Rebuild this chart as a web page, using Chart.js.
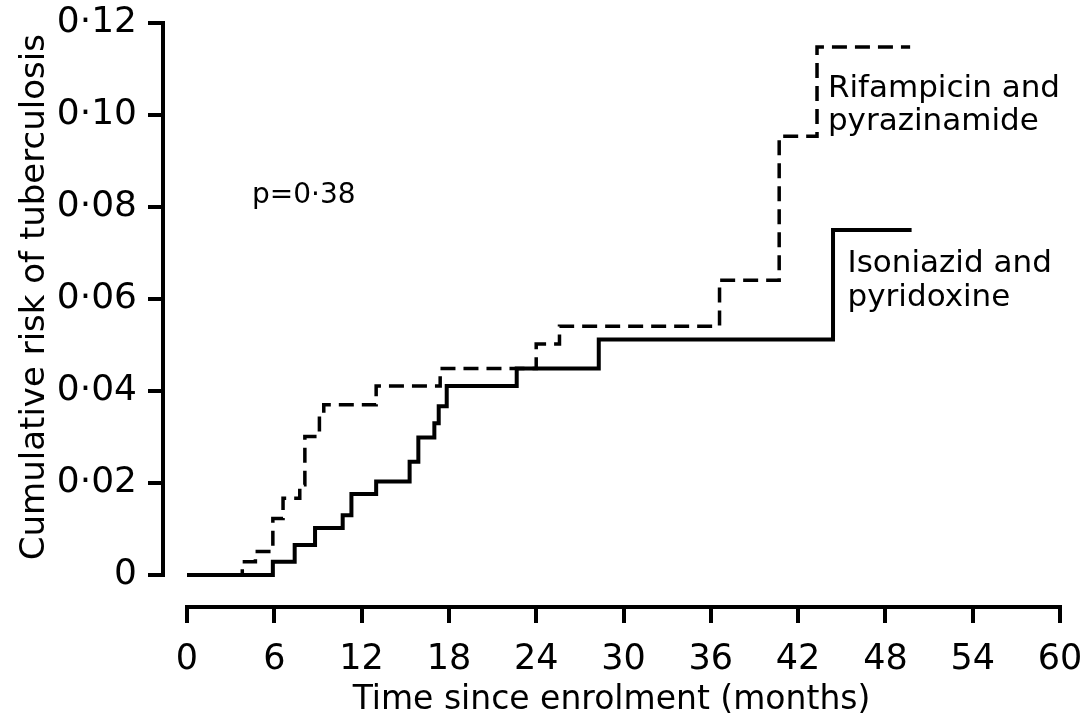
<!DOCTYPE html>
<html>
<head>
<meta charset="utf-8">
<script src="https://cdn.jsdelivr.net/npm/chart.js@4.4.1/dist/chart.umd.min.js"></script>
<style>
  html, body { margin: 0; padding: 0; background: #fff; }
  #wrap { width: 1080px; height: 722px; }
</style>
</head>
<body>
<div id="wrap"><canvas id="km" width="1080" height="722"></canvas></div>
<script>
// months since enrolment / cumulative risk
const rifMonths = [0, 3.8, 4.7, 5.9, 6.6, 7.75, 8.1, 9.1, 9.4, 13.0, 17.4, 24.0, 25.6, 36.6, 40.7, 43.3, 49.7]
const rifRisk   = [0, 0.0029, 0.0051, 0.0123, 0.0167, 0.0196, 0.0301, 0.0345, 0.0370, 0.0411, 0.0449, 0.0502, 0.0541, 0.0641, 0.0954, 0.1148, 0.1148]

const isoMonths = [0, 5.9, 7.4, 8.8, 10.7, 11.3, 13.0, 15.3, 15.9, 17.0, 17.3, 17.85, 22.66, 28.3, 44.4, 49.8]
const isoRisk   = [0, 0.0029, 0.0065, 0.0102, 0.0130, 0.0176, 0.0203, 0.0246, 0.0299, 0.0330, 0.0367, 0.0411, 0.0449, 0.0512, 0.0750, 0.0750]

const xTicks = [0, 6, 12, 18, 24, 30, 36, 42, 48, 54, 60]
const yTicks = [0, 0.02, 0.04, 0.06, 0.08, 0.10, 0.12]

const FONT = 'DejaVu Sans'
const yTitle = 'Cumulative risk of tuberculosis'

function toPoints(xs, ys) {
  return xs.map((m, i) => ({ x: m, y: ys[i] }))
}

// free text placed in data units (left edge, baseline)
const notes = [
  { text: 'p=0·38',         x: 4.47,  y: 0.0809, size: 28 },
  { text: 'Rifampicin and', x: 44.05, y: 0.1039, size: 31 },
  { text: 'pyrazinamide',   x: 44.05, y: 0.0968, size: 31 },
  { text: 'Isoniazid and',  x: 45.4,  y: 0.0659, size: 31 },
  { text: 'pyridoxine',     x: 45.4,  y: 0.0585, size: 31 },
]

// axis lines are offset from each other, so draw them here
const axisLines = {
  id: 'axisLines',
  afterDraw(chart) {
    const { ctx, chartArea, scales: { x, y } } = chart
    ctx.save()
    ctx.strokeStyle = '#000'
    ctx.lineWidth = 4
    ctx.beginPath()
    ctx.moveTo(chartArea.left, y.getPixelForValue(yTicks[yTicks.length - 1]) - 2)
    ctx.lineTo(chartArea.left, y.getPixelForValue(yTicks[0]) + 2)
    ctx.moveTo(x.getPixelForValue(xTicks[0]) - 2, chartArea.bottom)
    ctx.lineTo(x.getPixelForValue(xTicks[xTicks.length - 1]) + 2, chartArea.bottom)
    ctx.stroke()
    ctx.restore()
  }
}

const textNotes = {
  id: 'textNotes',
  afterDraw(chart) {
    const { ctx, scales: { x, y } } = chart
    ctx.save()
    ctx.fillStyle = '#000'
    ctx.textAlign = 'left'
    ctx.textBaseline = 'alphabetic'
    notes.forEach(n => {
      ctx.font = `${n.size}px "${FONT}"`
      ctx.fillText(n.text, x.getPixelForValue(n.x), y.getPixelForValue(n.y))
    })
    // y title, centred a little above the middle of the axis
    ctx.font = `34px "${FONT}"`
    ctx.textAlign = 'center'
    ctx.translate(44, y.getPixelForValue(0.0604))
    ctx.rotate(-Math.PI / 2)
    ctx.fillText(yTitle, 0, 0)
    ctx.restore()
  }
}

new Chart(document.getElementById('km'), {
  type: 'line',
  data: {
    datasets: [
      {
        label: 'Rifampicin and pyrazinamide',
        data: toPoints(rifMonths, rifRisk),
        borderColor: '#000',
        borderWidth: 3.5,
        borderDash: [15, 8],
        stepped: true,
        pointRadius: 0,
        fill: false,
      },
      {
        label: 'Isoniazid and pyridoxine',
        data: toPoints(isoMonths, isoRisk),
        borderColor: '#000',
        borderWidth: 4,
        stepped: true,
        pointRadius: 0,
        fill: false,
      },
    ],
  },
  options: {
    responsive: false,
    animation: false,
    devicePixelRatio: 1,
    layout: { padding: { top: 23, right: 20, bottom: 0, left: 0 } },
    plugins: { legend: { display: false }, tooltip: { enabled: false } },
    scales: {
      x: {
        type: 'linear',
        min: -1.65,
        max: 60,
        afterBuildTicks: s => { s.ticks = xTicks.map(v => ({ value: v })) },
        afterFit: s => { s.height = 115; s.paddingLeft = 0; s.paddingRight = 20 },
        grid: { drawOnChartArea: false, color: '#000', lineWidth: 4, tickLength: 16 },
        border: { display: false },
        ticks: { color: '#000', font: { family: FONT, size: 35 }, padding: 16, maxRotation: 0, autoSkip: false },
        title: {
          display: true,
          text: 'Time since enrolment (months)',
          color: '#000',
          font: { family: FONT, size: 33 },
          padding: { top: 0, bottom: 2 },
        },
      },
      y: {
        type: 'linear',
        min: -0.00696,
        max: 0.12,
        afterBuildTicks: s => { s.ticks = yTicks.map(v => ({ value: v })) },
        afterFit: s => { s.width = 163; s.paddingTop = 23; s.paddingBottom = 0 },
        grid: { drawOnChartArea: false, color: '#000', lineWidth: 4, tickLength: 15 },
        border: { display: false },
        ticks: {
          color: '#000',
          font: { family: FONT, size: 36 },
          padding: 11,
          callback: v => v === 0 ? '0' : v.toFixed(2).replace('.', '·'),
        },
      },
    },
  },
  plugins: [axisLines, textNotes],
})
</script>
</body>
</html>
